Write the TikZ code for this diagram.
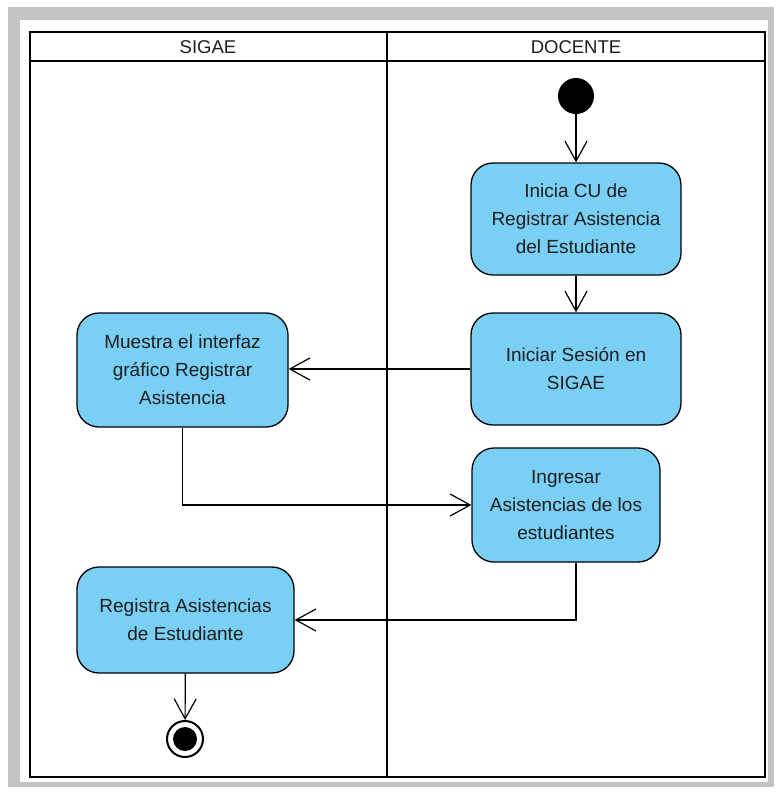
\documentclass[tikz,border=0pt]{standalone}
\usepackage{fontspec}
\setmainfont{Liberation Sans}
\usetikzlibrary{arrows.meta}
\definecolor{actfill}{HTML}{7ACFF5}
\definecolor{framegray}{HTML}{C3C3C3}
\definecolor{ink}{HTML}{1E1E1E}
\begin{document}
\begin{tikzpicture}[x=1pt,y=-1pt,
  action/.style={draw=black, line width=1.3pt, fill=actfill, rounded corners=22pt,
    align=center, text=ink, font=\fontsize{19}{28}\selectfont, inner sep=0pt},
  flow/.style={draw=black, line width=1.2pt, -{Straight Barb[length=20pt,width=22pt]}},
  lane/.style={line width=2.6pt, draw=black},
  lanetitle/.style={text=ink, font=\fontsize{18.5}{22}\selectfont, inner sep=0pt},
  ]
\useasboundingbox (0,0) rectangle (776,793);
% outer frame
\fill[framegray] (8,7) rectangle (774,787);
\fill[white] (20,20) rectangle (768,782);

% swimlanes
\draw[lane] (30,32) rectangle (765,777);
\draw[lane] (30,61) -- (765,61);
\draw[lane] (387,32) -- (387,777);
\node[lanetitle] (hs) at (208,47) {SIGAE};
\node[lanetitle] (hd) at (576,47) {DOCENTE};

% initial and final states
\node[circle, fill=black, minimum size=36pt, inner sep=0pt] (start) at (576,96) {};
\node[circle, draw=black, line width=2pt, fill=white, minimum size=36pt, inner sep=0pt] (endc) at (185,739) {};
\fill[black] (endc) circle (12pt);

% actions
\node[action, minimum width=210pt, minimum height=112pt] (n1) at (576,219)
  {Inicia CU de\\Registrar Asistencia\\del Estudiante};
\node[action, minimum width=210pt, minimum height=112pt] (n2) at (576,369)
  {Iniciar Sesión en\\SIGAE};
\node[action, minimum width=211pt, minimum height=114pt] (n3) at (182.5,370)
  {Muestra el interfaz\\gráfico Registrar\\Asistencia};
\node[action, minimum width=188pt, minimum height=114pt] (n4) at (566,505)
  {Ingresar\\Asistencias de los\\estudiantes};
\node[action, minimum width=217pt, minimum height=106pt] (n5) at (185.5,620)
  {Registra Asistencias\\de Estudiante};

% control flows
\draw[flow] (start) -- (n1);
\draw[flow] (n1) -- (n2);
\draw[flow] (n2.west) -- (n2.west -| n3.east);
\draw[flow] (n3.south) |- (n4.west);
\draw[flow] (n4.south -| n1) |- (n5.east);
\draw[flow] (n5) -- (endc);
\end{tikzpicture}
\end{document}
